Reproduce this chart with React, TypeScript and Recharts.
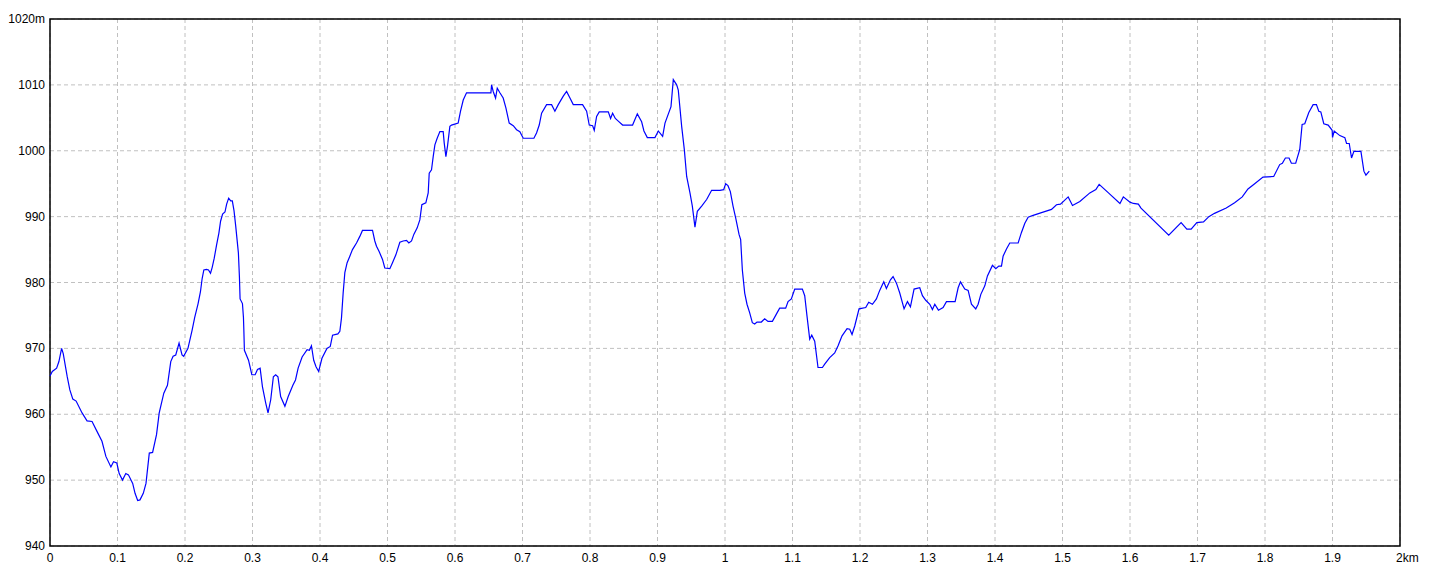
import { CartesianGrid, Line, LineChart, ReferenceArea, XAxis, YAxis } from "recharts";

// distance along the route (km) and elevation (m)
const distanceKm = [
  0, 0.0034, 0.0098, 0.0132, 0.0172, 0.0196, 0.0255, 0.0294, 0.0338, 0.0387, 0.0475, 0.0549, 0.0623, 0.0696,
  0.077, 0.0828, 0.0902, 0.0941, 0.099, 0.1025, 0.1074, 0.1123, 0.1162, 0.1225, 0.126, 0.1299, 0.1333, 0.1382,
  0.1422, 0.1471, 0.152, 0.1578, 0.1618, 0.1686, 0.174, 0.1789, 0.1824, 0.1863, 0.1912, 0.1956, 0.198, 0.2044,
  0.2104, 0.2144, 0.2194, 0.2229, 0.2254, 0.2279, 0.2318, 0.2348, 0.2378, 0.2403, 0.2433, 0.2468, 0.2502, 0.2527,
  0.2557, 0.2592, 0.2617, 0.2647, 0.2677, 0.2701, 0.2726, 0.2751, 0.2791, 0.2806, 0.2816, 0.2851, 0.2866, 0.2872,
  0.288, 0.2941, 0.299, 0.3039, 0.3074, 0.3113, 0.3147, 0.3196, 0.323, 0.327, 0.3309, 0.3343, 0.3377, 0.3417,
  0.348, 0.3529, 0.3598, 0.3637, 0.3676, 0.3735, 0.3809, 0.3843, 0.3873, 0.3907, 0.3941, 0.398, 0.4029, 0.4103,
  0.4152, 0.4186, 0.4265, 0.4294, 0.4318, 0.4343, 0.4368, 0.4402, 0.4442, 0.4481, 0.4541, 0.459, 0.4629, 0.4778,
  0.4812, 0.4837, 0.4876, 0.4926, 0.496, 0.5035, 0.5074, 0.5124, 0.5183, 0.5232, 0.5282, 0.5316, 0.5356, 0.539,
  0.544, 0.5479, 0.5509, 0.5568, 0.5603, 0.5618, 0.5652, 0.5677, 0.5702, 0.5736, 0.5776, 0.5825, 0.584, 0.5865,
  0.5889, 0.5924, 0.5949, 0.6047, 0.6082, 0.6122, 0.6171, 0.6532, 0.6542, 0.6566, 0.6601, 0.6626, 0.6665, 0.6714,
  0.6754, 0.6803, 0.6863, 0.6912, 0.6961, 0.7011, 0.7169, 0.7208, 0.7248, 0.7283, 0.7357, 0.7431, 0.748, 0.753,
  0.7604, 0.7653, 0.7703, 0.7752, 0.789, 0.795, 0.7989, 0.8039, 0.8063, 0.8098, 0.8137, 0.8271, 0.8305, 0.8335,
  0.8375, 0.8419, 0.8483, 0.8631, 0.8701, 0.8765, 0.8799, 0.8849, 0.8962, 0.9012, 0.9076, 0.9111, 0.92, 0.9234,
  0.9284, 0.9308, 0.9358, 0.9397, 0.9432, 0.9481, 0.9516, 0.9555, 0.959, 0.9654, 0.9728, 0.9802, 0.9926, 0.998,
  1.001, 1.0044, 1.0079, 1.0119, 1.0158, 1.0208, 1.0232, 1.0257, 1.0292, 1.0326, 1.0366, 1.0405, 1.044, 1.0474,
  1.0539, 1.0588, 1.0637, 1.0702, 1.0761, 1.081, 1.0899, 1.0934, 1.0983, 1.1033, 1.1146, 1.1181, 1.1215, 1.1255,
  1.1285, 1.1329, 1.1378, 1.1443, 1.1477, 1.1551, 1.1625, 1.1675, 1.1734, 1.1808, 1.1848, 1.1882, 1.1922, 1.1986,
  1.2085, 1.2129, 1.2184, 1.2243, 1.2292, 1.2352, 1.2391, 1.2451, 1.249, 1.254, 1.2589, 1.2653, 1.2703, 1.2747,
  1.2801, 1.2885, 1.2925, 1.2974, 1.3034, 1.3073, 1.3108, 1.3162, 1.3231, 1.3281, 1.3409, 1.3454, 1.3488, 1.3552,
  1.3602, 1.3651, 1.3715, 1.375, 1.379, 1.3849, 1.3888, 1.3962, 1.4012, 1.4056, 1.4096, 1.412, 1.417, 1.4219,
  1.4343, 1.4392, 1.4442, 1.4491, 1.4565, 1.4689, 1.4837, 1.4911, 1.497, 1.5084, 1.5148, 1.5257, 1.5405, 1.5494,
  1.5543, 1.5693, 1.5851, 1.5901, 1.6, 1.605, 1.6124, 1.6163, 1.6574, 1.6757, 1.6842, 1.6906, 1.699, 1.7089,
  1.7168, 1.7252, 1.7426, 1.755, 1.7663, 1.7748, 1.7847, 1.797, 1.8129, 1.8218, 1.8257, 1.8302, 1.8356, 1.8391,
  1.8455, 1.8515, 1.855, 1.8589, 1.8649, 1.8713, 1.8762, 1.8797, 1.8827, 1.8871, 1.8936, 1.8995, 1.9, 1.9025,
  1.9109, 1.9183, 1.9208, 1.9248, 1.9282, 1.9317, 1.9421, 1.9465, 1.9495, 1.9545,
];

const elevationM = [
  965.8, 966.5, 967, 968, 970, 969.2, 965.7, 963.7, 962.3, 962, 960.2, 959, 958.9, 957.4,
  955.9, 953.6, 952, 952.8, 952.6, 951, 950, 951, 950.8, 949.5, 948, 946.9, 947, 948,
  949.5, 954.1, 954.2, 956.9, 960.2, 963.2, 964.4, 968, 968.8, 969, 970.8, 969, 968.8, 970,
  972.7, 974.7, 976.8, 978.6, 980.6, 981.9, 982, 981.9, 981.4, 982.3, 983.7, 985.7, 987.5, 989.3,
  990.4, 990.7, 991.9, 992.8, 992.4, 992.4, 990.9, 988.6, 984.5, 980.9, 977.5, 976.8, 974.7, 972.7,
  969.7, 968.2, 966, 966, 966.8, 967, 964.2, 961.7, 960.2, 962.2, 965.7, 966, 965.7, 962.7,
  961.2, 962.7, 964.4, 965.2, 967, 968.7, 969.8, 969.7, 970.4, 968.2, 967.2, 966.5, 968.5, 970,
  970.3, 972, 972.2, 972.6, 974.6, 978.4, 981.5, 983, 984, 985, 986, 987, 987.9, 987.9,
  986.3, 985.5, 984.7, 983.5, 982.2, 982.1, 983, 984.2, 986.1, 986.3, 986.4, 986, 986.3, 987.3,
  988.3, 989.5, 991.8, 992.1, 993.6, 996.6, 997.1, 999.1, 1000.9, 1001.9, 1002.9, 1002.9, 1001.2, 999.1,
  1000.7, 1003.7, 1003.9, 1004.2, 1006, 1007.7, 1008.8, 1008.8, 1010, 1009, 1008, 1009.5, 1008.8, 1008,
  1006.5, 1004.2, 1003.8, 1003.2, 1002.9, 1001.9, 1001.9, 1002.7, 1003.9, 1005.7, 1007, 1007, 1006, 1007,
  1008.3, 1009, 1008, 1007, 1007, 1006, 1003.9, 1003.8, 1003.1, 1005.2, 1005.9, 1005.9, 1004.9, 1005.7,
  1004.9, 1004.5, 1003.9, 1003.9, 1005.6, 1004.4, 1003, 1002, 1002, 1003, 1002.2, 1004.2, 1006.7, 1010.8,
  1010, 1009.2, 1003.7, 1000.2, 996.1, 993.6, 991.6, 988.4, 990.8, 991.6, 992.6, 994, 994, 994.1,
  995, 994.7, 993.8, 991.6, 989.8, 987.3, 986.5, 981.9, 978.4, 976.7, 975.4, 973.9, 973.7, 974,
  974, 974.5, 974.1, 974.1, 975.2, 976.1, 976.1, 977.1, 977.5, 979, 979, 978, 974.9, 971.4,
  972, 971.1, 967.1, 967.1, 967.6, 968.6, 969.3, 970.4, 971.9, 973, 972.9, 972.1, 973.4, 976,
  976.2, 977, 976.7, 977.5, 978.8, 980.1, 979.1, 980.4, 980.9, 979.9, 978.4, 976, 977.1, 976.3,
  979, 979.2, 978, 977.3, 976.7, 975.9, 976.7, 975.8, 976.2, 977.1, 977.1, 979.2, 980.1, 979,
  978.8, 976.7, 976, 976.7, 978.2, 979.5, 981, 982.6, 982.1, 982.5, 982.5, 984, 985.1, 986,
  986, 987.6, 989, 989.9, 990.2, 990.6, 991.1, 991.8, 991.9, 993, 991.7, 992.3, 993.6, 994.1,
  994.9, 993.5, 992, 993, 992.2, 992, 991.9, 991.3, 987.2, 989.1, 988.1, 988.1, 989.1, 989.2,
  990, 990.5, 991.3, 992.1, 993, 994.2, 995, 996, 996.1, 997.9, 998.1, 998.9, 998.9, 998.1,
  998.1, 1000.2, 1004, 1004.1, 1005.8, 1007, 1007, 1006, 1005.9, 1004.1, 1003.9, 1003.1, 1002, 1003,
  1002.3, 1002, 1001.1, 1001.1, 998.9, 999.9, 999.9, 996.9, 996.3, 996.9,
];

const xTicks = [0, 0.1, 0.2, 0.3, 0.4, 0.5, 0.6, 0.7, 0.8, 0.9, 1, 1.1, 1.2, 1.3, 1.4, 1.5, 1.6, 1.7, 1.8, 1.9, 2];
const yTicks = [940, 950, 960, 970, 980, 990, 1000, 1010, 1020];

const data = distanceKm.map((km, i) => ({ km, ele: elevationM[i] }));

const FONT = '"Liberation Sans Narrow", "Liberation Sans", Arial, sans-serif';

function XTick({ x, y, payload }: any) {
  const v = payload.value as number;
  const last = v === 2;
  return (
    <text
      x={last ? x - 4 : x}
      y={y}
      dy={8.5}
      textAnchor={last ? "start" : "middle"}
      fontSize={12}
      fontFamily={FONT}
      fill="#000"
    >
      {last ? "2km" : String(+v.toFixed(1))}
    </text>
  );
}

function YTick({ x, y, payload }: any) {
  const v = payload.value as number;
  return (
    <text x={x} y={y} dy={4} textAnchor="end" fontSize={12} fontFamily={FONT} fill="#000">
      {v === 1020 ? "1020m" : v}
    </text>
  );
}

export default function App() {
  return (
    <div style={{ position: "absolute", left: 0, top: 0, width: 1440, height: 576, background: "#fff" }}>
      <LineChart width={1440} height={576} data={data} margin={{ top: 19, right: 40, bottom: 0, left: 0 }}>
        <CartesianGrid stroke="#c0c0c0" strokeDasharray="4 3" />
        <XAxis
          dataKey="km"
          type="number"
          domain={[0, 2]}
          ticks={xTicks}
          interval={0}
          height={30}
          tickLine={false}
          axisLine={false}
          tickSize={5}
          tickMargin={2}
          tick={<XTick />}
        />
        <YAxis
          type="number"
          domain={[940, 1020]}
          ticks={yTicks}
          interval={0}
          width={50}
          tickLine={false}
          axisLine={false}
          tickSize={3}
          tickMargin={2}
          tick={<YTick />}
        />
        <ReferenceArea x1={0} x2={2} y1={940} y2={1020} fill="none" stroke="#000" strokeWidth={1.5} ifOverflow="visible" />
        <Line
          type="linear"
          dataKey="ele"
          stroke="#0000ff"
          strokeWidth={1.2}
          dot={false}
          activeDot={false}
          isAnimationActive={false}
        />
      </LineChart>
    </div>
  );
}
